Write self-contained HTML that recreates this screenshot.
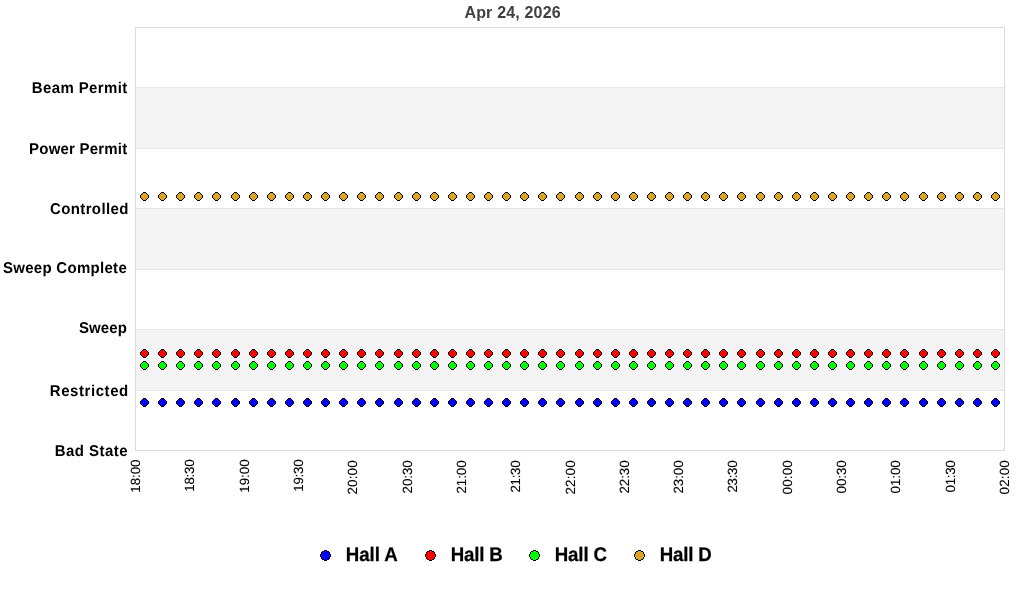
<!DOCTYPE html>
<html><head><meta charset="utf-8"><title>Hall status chart</title>
<style>
html,body{margin:0;padding:0;background:#fff;}
body{width:1024px;height:600px;overflow:hidden;font-family:"Liberation Sans",sans-serif;}
svg{display:block;position:absolute;left:0;top:0;will-change:transform;}
text{font-family:"Liberation Sans",sans-serif;fill:#000;}
.yl{font-weight:bold;font-size:15px;text-rendering:geometricPrecision;}
.xl{font-size:13.33px;text-rendering:geometricPrecision;stroke:#000;stroke-width:0.1px;}
.lg{font-weight:bold;font-size:18.67px;text-rendering:geometricPrecision;stroke:#000;stroke-width:0.25px;}
.ti{font-weight:bold;font-size:16px;fill:#404040;}
</style></head><body>
<svg width="1024" height="600" viewBox="0 0 1024 600">
<defs>
<g id="m" shape-rendering="crispEdges">
<path fill="#000" d="M3 0h3v1h1v1h1v1h1v3h-1v1h-1v1h-1v1h-3v-1h-1v-1h-1v-1h-1v-3h1v-1h1v-1h1z"/>
<path d="M3 1h3v1h1v1h1v3h-1v1h-1v1h-3v-1h-1v-1h-1v-3h1v-1h1z"/>
</g>
<g id="c" shape-rendering="crispEdges">
<path fill="#000" d="M4 0h3v1h2v1h1v2h1v3h-1v2h-1v1h-2v1h-3v-1h-2v-1h-1v-2h-1v-3h1v-2h1v-1h2z"/>
<path d="M4 1h3v1h2v2h1v3h-1v2h-2v1h-3v-1h-2v-2h-1v-3h1v-2h2z"/>
</g>
</defs>
<g shape-rendering="crispEdges">
<rect x="135" y="27" width="870" height="424" fill="#fff"/>
<rect x="136" y="88" width="868" height="60" fill="#f4f4f4"/>
<rect x="136" y="209" width="868" height="60" fill="#f4f4f4"/>
<rect x="136" y="330" width="868" height="60" fill="#f4f4f4"/>
<rect x="136" y="87" width="868" height="1" fill="#e6e6e6"/>
<rect x="136" y="148" width="868" height="1" fill="#e6e6e6"/>
<rect x="136" y="208" width="868" height="1" fill="#e6e6e6"/>
<rect x="136" y="269" width="868" height="1" fill="#e6e6e6"/>
<rect x="136" y="329" width="868" height="1" fill="#e6e6e6"/>
<rect x="136" y="390" width="868" height="1" fill="#e6e6e6"/>
<rect x="135" y="27" width="870" height="1" fill="#dcdcdc"/>
<rect x="135" y="450" width="870" height="1" fill="#dcdcdc"/>
<rect x="135" y="27" width="1" height="424" fill="#dcdcdc"/>
<rect x="1004" y="27" width="1" height="424" fill="#dcdcdc"/>
</g>
<g fill="#0000ff">
<use href="#m" x="140" y="398"/><use href="#m" x="158" y="398"/><use href="#m" x="176" y="398"/><use href="#m" x="194" y="398"/><use href="#m" x="212" y="398"/><use href="#m" x="231" y="398"/><use href="#m" x="249" y="398"/><use href="#m" x="267" y="398"/><use href="#m" x="285" y="398"/><use href="#m" x="303" y="398"/><use href="#m" x="321" y="398"/><use href="#m" x="339" y="398"/><use href="#m" x="357" y="398"/><use href="#m" x="375" y="398"/><use href="#m" x="394" y="398"/><use href="#m" x="412" y="398"/><use href="#m" x="430" y="398"/><use href="#m" x="448" y="398"/><use href="#m" x="466" y="398"/><use href="#m" x="484" y="398"/><use href="#m" x="502" y="398"/><use href="#m" x="520" y="398"/><use href="#m" x="538" y="398"/><use href="#m" x="556" y="398"/><use href="#m" x="575" y="398"/><use href="#m" x="593" y="398"/><use href="#m" x="611" y="398"/><use href="#m" x="629" y="398"/><use href="#m" x="647" y="398"/><use href="#m" x="665" y="398"/><use href="#m" x="683" y="398"/><use href="#m" x="701" y="398"/><use href="#m" x="719" y="398"/><use href="#m" x="737" y="398"/><use href="#m" x="756" y="398"/><use href="#m" x="774" y="398"/><use href="#m" x="792" y="398"/><use href="#m" x="810" y="398"/><use href="#m" x="828" y="398"/><use href="#m" x="846" y="398"/><use href="#m" x="864" y="398"/><use href="#m" x="882" y="398"/><use href="#m" x="900" y="398"/><use href="#m" x="919" y="398"/><use href="#m" x="937" y="398"/><use href="#m" x="955" y="398"/><use href="#m" x="973" y="398"/><use href="#m" x="991" y="398"/>
</g>
<g fill="#ff0000">
<use href="#m" x="140" y="349"/><use href="#m" x="158" y="349"/><use href="#m" x="176" y="349"/><use href="#m" x="194" y="349"/><use href="#m" x="212" y="349"/><use href="#m" x="231" y="349"/><use href="#m" x="249" y="349"/><use href="#m" x="267" y="349"/><use href="#m" x="285" y="349"/><use href="#m" x="303" y="349"/><use href="#m" x="321" y="349"/><use href="#m" x="339" y="349"/><use href="#m" x="357" y="349"/><use href="#m" x="375" y="349"/><use href="#m" x="394" y="349"/><use href="#m" x="412" y="349"/><use href="#m" x="430" y="349"/><use href="#m" x="448" y="349"/><use href="#m" x="466" y="349"/><use href="#m" x="484" y="349"/><use href="#m" x="502" y="349"/><use href="#m" x="520" y="349"/><use href="#m" x="538" y="349"/><use href="#m" x="556" y="349"/><use href="#m" x="575" y="349"/><use href="#m" x="593" y="349"/><use href="#m" x="611" y="349"/><use href="#m" x="629" y="349"/><use href="#m" x="647" y="349"/><use href="#m" x="665" y="349"/><use href="#m" x="683" y="349"/><use href="#m" x="701" y="349"/><use href="#m" x="719" y="349"/><use href="#m" x="737" y="349"/><use href="#m" x="756" y="349"/><use href="#m" x="774" y="349"/><use href="#m" x="792" y="349"/><use href="#m" x="810" y="349"/><use href="#m" x="828" y="349"/><use href="#m" x="846" y="349"/><use href="#m" x="864" y="349"/><use href="#m" x="882" y="349"/><use href="#m" x="900" y="349"/><use href="#m" x="919" y="349"/><use href="#m" x="937" y="349"/><use href="#m" x="955" y="349"/><use href="#m" x="973" y="349"/><use href="#m" x="991" y="349"/>
</g>
<g fill="#00ff00">
<use href="#m" x="140" y="361"/><use href="#m" x="158" y="361"/><use href="#m" x="176" y="361"/><use href="#m" x="194" y="361"/><use href="#m" x="212" y="361"/><use href="#m" x="231" y="361"/><use href="#m" x="249" y="361"/><use href="#m" x="267" y="361"/><use href="#m" x="285" y="361"/><use href="#m" x="303" y="361"/><use href="#m" x="321" y="361"/><use href="#m" x="339" y="361"/><use href="#m" x="357" y="361"/><use href="#m" x="375" y="361"/><use href="#m" x="394" y="361"/><use href="#m" x="412" y="361"/><use href="#m" x="430" y="361"/><use href="#m" x="448" y="361"/><use href="#m" x="466" y="361"/><use href="#m" x="484" y="361"/><use href="#m" x="502" y="361"/><use href="#m" x="520" y="361"/><use href="#m" x="538" y="361"/><use href="#m" x="556" y="361"/><use href="#m" x="575" y="361"/><use href="#m" x="593" y="361"/><use href="#m" x="611" y="361"/><use href="#m" x="629" y="361"/><use href="#m" x="647" y="361"/><use href="#m" x="665" y="361"/><use href="#m" x="683" y="361"/><use href="#m" x="701" y="361"/><use href="#m" x="719" y="361"/><use href="#m" x="737" y="361"/><use href="#m" x="756" y="361"/><use href="#m" x="774" y="361"/><use href="#m" x="792" y="361"/><use href="#m" x="810" y="361"/><use href="#m" x="828" y="361"/><use href="#m" x="846" y="361"/><use href="#m" x="864" y="361"/><use href="#m" x="882" y="361"/><use href="#m" x="900" y="361"/><use href="#m" x="919" y="361"/><use href="#m" x="937" y="361"/><use href="#m" x="955" y="361"/><use href="#m" x="973" y="361"/><use href="#m" x="991" y="361"/>
</g>
<g fill="#daa520">
<use href="#m" x="140" y="192"/><use href="#m" x="158" y="192"/><use href="#m" x="176" y="192"/><use href="#m" x="194" y="192"/><use href="#m" x="212" y="192"/><use href="#m" x="231" y="192"/><use href="#m" x="249" y="192"/><use href="#m" x="267" y="192"/><use href="#m" x="285" y="192"/><use href="#m" x="303" y="192"/><use href="#m" x="321" y="192"/><use href="#m" x="339" y="192"/><use href="#m" x="357" y="192"/><use href="#m" x="375" y="192"/><use href="#m" x="394" y="192"/><use href="#m" x="412" y="192"/><use href="#m" x="430" y="192"/><use href="#m" x="448" y="192"/><use href="#m" x="466" y="192"/><use href="#m" x="484" y="192"/><use href="#m" x="502" y="192"/><use href="#m" x="520" y="192"/><use href="#m" x="538" y="192"/><use href="#m" x="556" y="192"/><use href="#m" x="575" y="192"/><use href="#m" x="593" y="192"/><use href="#m" x="611" y="192"/><use href="#m" x="629" y="192"/><use href="#m" x="647" y="192"/><use href="#m" x="665" y="192"/><use href="#m" x="683" y="192"/><use href="#m" x="701" y="192"/><use href="#m" x="719" y="192"/><use href="#m" x="737" y="192"/><use href="#m" x="756" y="192"/><use href="#m" x="774" y="192"/><use href="#m" x="792" y="192"/><use href="#m" x="810" y="192"/><use href="#m" x="828" y="192"/><use href="#m" x="846" y="192"/><use href="#m" x="864" y="192"/><use href="#m" x="882" y="192"/><use href="#m" x="900" y="192"/><use href="#m" x="919" y="192"/><use href="#m" x="937" y="192"/><use href="#m" x="955" y="192"/><use href="#m" x="973" y="192"/><use href="#m" x="991" y="192"/>
</g>
<text class="yl" transform="translate(31.76,93) scale(1,1.04)" textLength="95.46" lengthAdjust="spacing">Beam Permit</text>
<text class="yl" transform="translate(29.06,154) scale(1,1.04)" textLength="98.14" lengthAdjust="spacing">Power Permit</text>
<text class="yl" transform="translate(50.02,214) scale(1,1.04)" textLength="78.35" lengthAdjust="spacing">Controlled</text>
<text class="yl" transform="translate(2.96,273) scale(1,1.04)" textLength="123.78" lengthAdjust="spacing">Sweep Complete</text>
<text class="yl" transform="translate(78.96,333) scale(1,1.04)" textLength="47.9" lengthAdjust="spacing">Sweep</text>
<text class="yl" transform="translate(49.79,396) scale(1,1.04)" textLength="78.44" lengthAdjust="spacing">Restricted</text>
<text class="yl" transform="translate(54.76,456) scale(1,1.04)" textLength="72.85" lengthAdjust="spacing">Bad State</text>
<text class="ti" x="464.44" y="17.7" textLength="96.21" lengthAdjust="spacing">Apr 24, 2026</text>
<text class="lg" transform="translate(345.74,561) scale(1,1.05)" textLength="52.11" lengthAdjust="spacing">Hall A</text>
<text class="lg" transform="translate(450.74,561) scale(1,1.05)" textLength="52.1" lengthAdjust="spacing">Hall B</text>
<text class="lg" transform="translate(554.76,561) scale(1,1.05)" textLength="52.25" lengthAdjust="spacing">Hall C</text>
<text class="lg" transform="translate(659.76,561) scale(1,1.05)" textLength="51.9" lengthAdjust="spacing">Hall D</text>
<text class="xl" transform="translate(140,492.69) rotate(-90)" textLength="33.22" lengthAdjust="spacing">18:00</text>
<text class="xl" transform="translate(194,491.69) rotate(-90)" textLength="32.29" lengthAdjust="spacing">18:30</text>
<text class="xl" transform="translate(249,492.69) rotate(-90)" textLength="33.29" lengthAdjust="spacing">19:00</text>
<text class="xl" transform="translate(303,491.69) rotate(-90)" textLength="32.29" lengthAdjust="spacing">19:30</text>
<text class="xl" transform="translate(357,494.57) rotate(-90)" textLength="34.22" lengthAdjust="spacing">20:00</text>
<text class="xl" transform="translate(412,493.38) rotate(-90)" textLength="33.13" lengthAdjust="spacing">20:30</text>
<text class="xl" transform="translate(466,493.57) rotate(-90)" textLength="33.22" lengthAdjust="spacing">21:00</text>
<text class="xl" transform="translate(520,492.57) rotate(-90)" textLength="32.22" lengthAdjust="spacing">21:30</text>
<text class="xl" transform="translate(575,494.57) rotate(-90)" textLength="34.22" lengthAdjust="spacing">22:00</text>
<text class="xl" transform="translate(629,493.57) rotate(-90)" textLength="33.22" lengthAdjust="spacing">22:30</text>
<text class="xl" transform="translate(683,493.57) rotate(-90)" textLength="33.22" lengthAdjust="spacing">23:00</text>
<text class="xl" transform="translate(737,492.57) rotate(-90)" textLength="32.22" lengthAdjust="spacing">23:30</text>
<text class="xl" transform="translate(792,494.42) rotate(-90)" textLength="34.07" lengthAdjust="spacing">00:00</text>
<text class="xl" transform="translate(846,493.42) rotate(-90)" textLength="33.07" lengthAdjust="spacing">00:30</text>
<text class="xl" transform="translate(900,493.42) rotate(-90)" textLength="33.07" lengthAdjust="spacing">01:00</text>
<text class="xl" transform="translate(955,492.42) rotate(-90)" textLength="32.07" lengthAdjust="spacing">01:30</text>
<text class="xl" transform="translate(1009,494.42) rotate(-90)" textLength="34.07" lengthAdjust="spacing">02:00</text>
<use href="#c" x="320" y="550" fill="#0000ff"/>
<use href="#c" x="425" y="550" fill="#ff0000"/>
<use href="#c" x="529" y="550" fill="#00ff00"/>
<use href="#c" x="634" y="550" fill="#daa520"/>
</svg>
</body></html>
